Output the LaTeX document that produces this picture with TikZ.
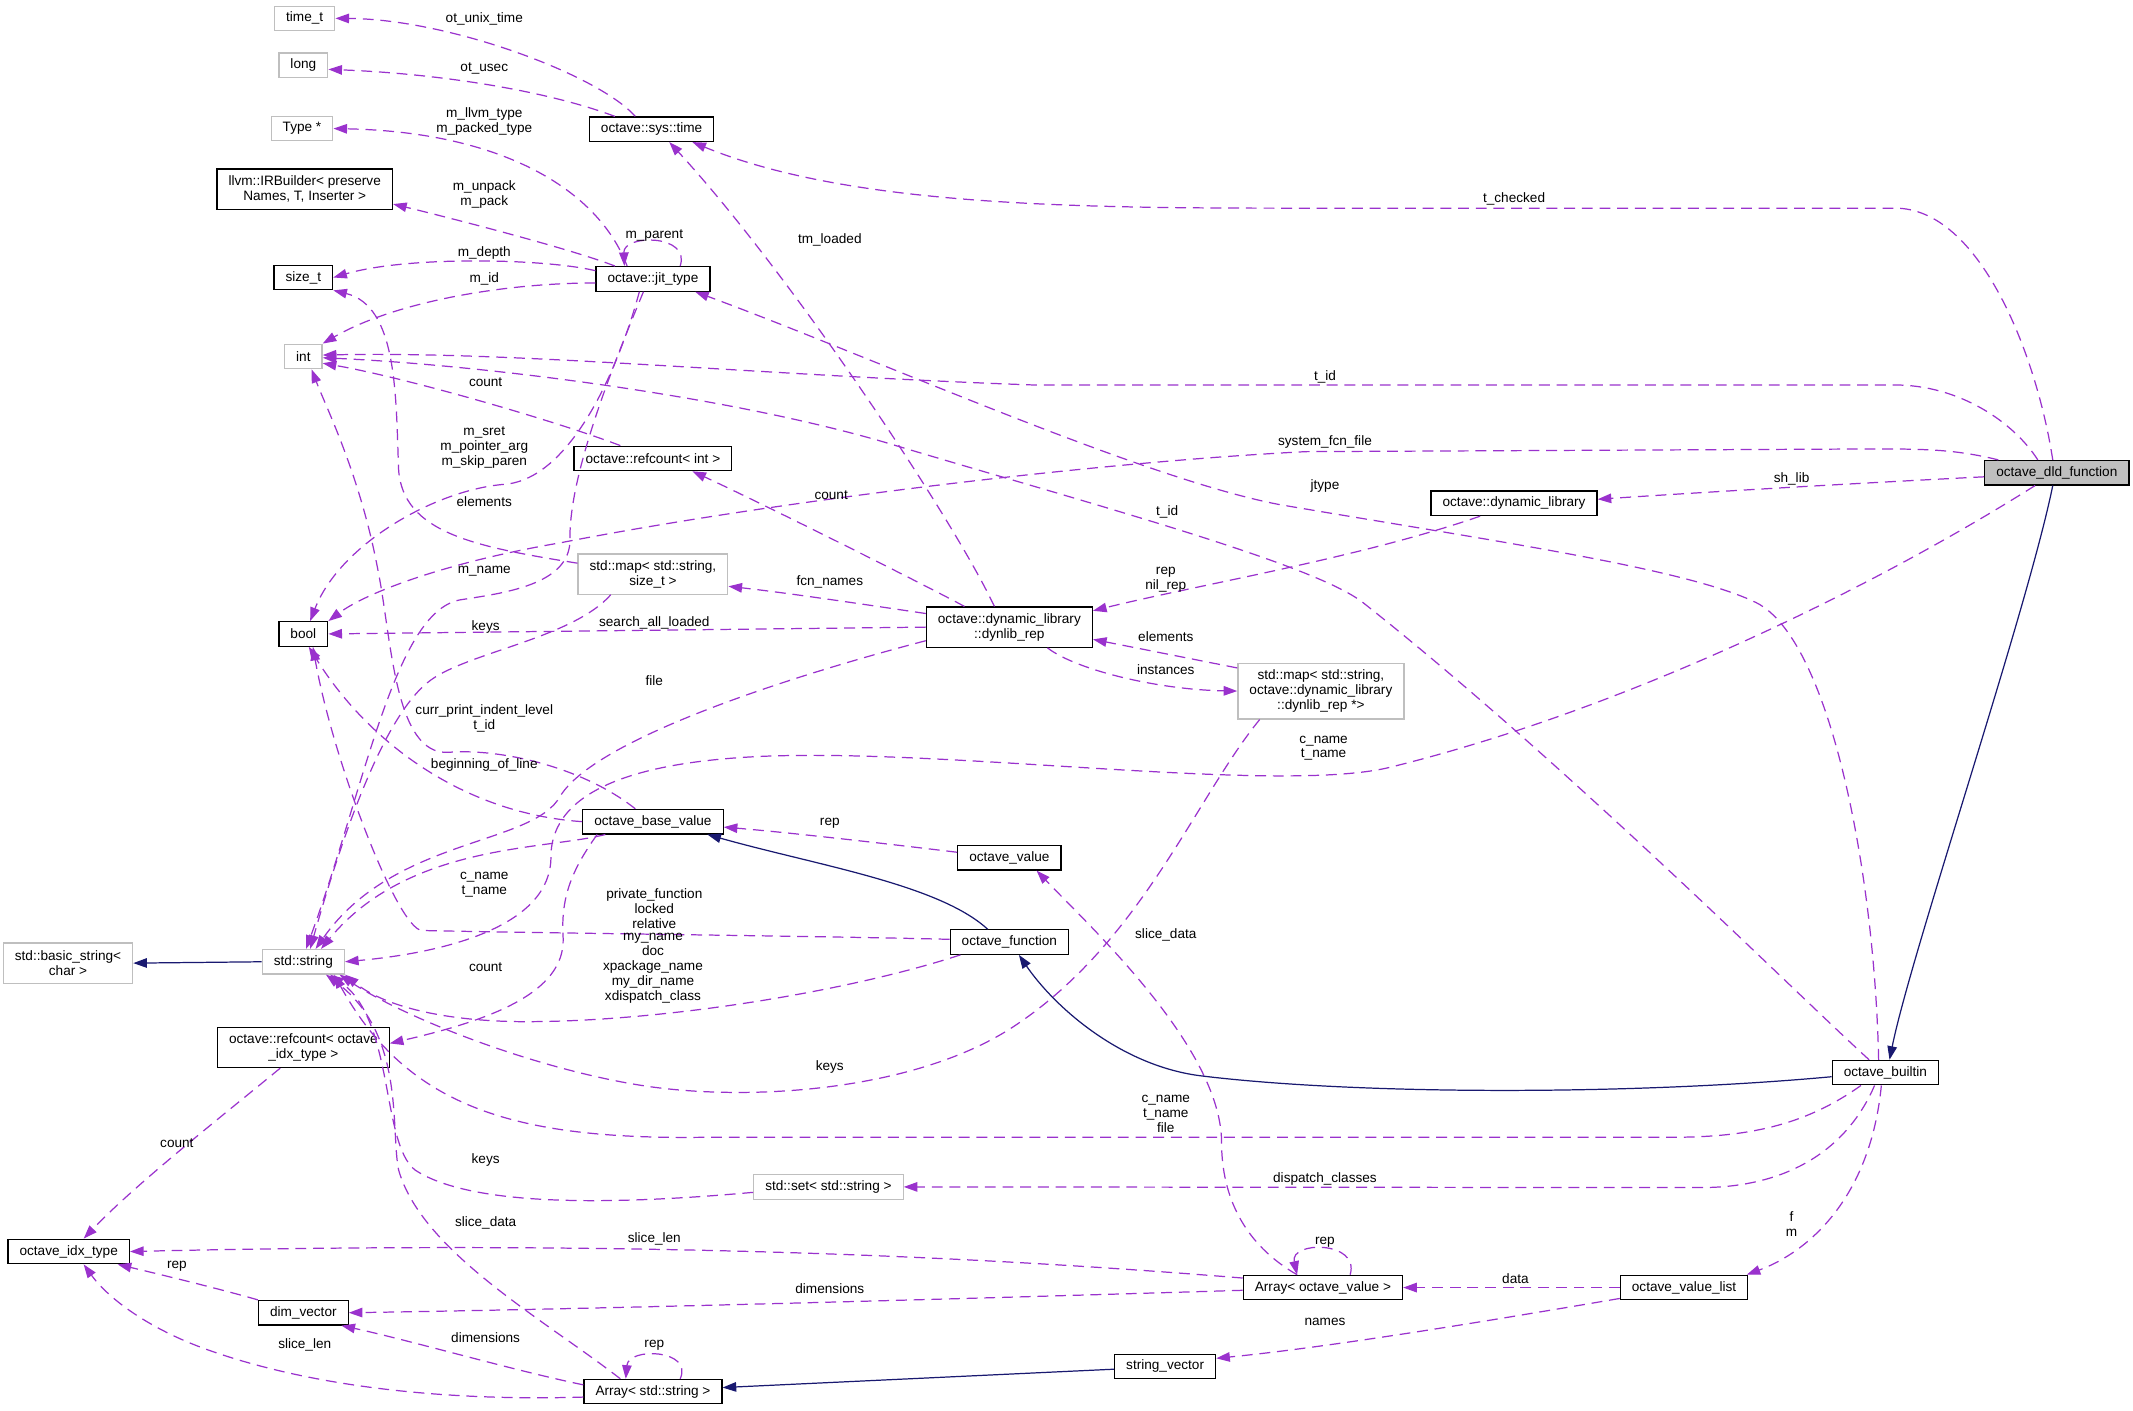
\documentclass[tikz,border=0pt]{standalone}
\usepackage{fontspec}
\setmainfont{Liberation Sans}
\usetikzlibrary{arrows.meta}
\definecolor{mempurple}{HTML}{9A32CD}
\definecolor{inhnavy}{HTML}{191970}
\definecolor{extgray}{HTML}{BFBFBF}

\begin{document}
\begin{tikzpicture}[x=1pt, y=-1pt,
  font=\fontsize{10pt}{11pt}\selectfont,
  cls/.style={draw=black, line width=0.9pt, fill=white, inner xsep=8.5pt, inner ysep=2pt, minimum height=18pt, align=center},
  ext/.style={cls, draw=extgray},
  two/.style={minimum height=29.5pt},
  three/.style={minimum height=41pt},
  mem/.style={draw=mempurple, line width=0.9pt, dash pattern=on 8pt off 5pt, -{Triangle[length=10pt,width=7pt]}},
  inh/.style={draw=inhnavy, line width=0.9pt, -{Triangle[length=10pt,width=7pt]}},
  lbl/.style={inner sep=0pt, align=center}
]
\useasboundingbox (0,0) rectangle (1568,1037);

\node[ext] (timet) at (224,13.5) {time\_t};
\node[ext] (long) at (223,48) {long};
\node[ext] (typeptr) at (222,94.5) {Type *};
\node[cls, two] (irbuilder) at (224,139) {llvm::IRBuilder< preserve\\Names, T, Inserter >};
\node[cls] (sizet) at (223,204) {size\_t};
\node[ext] (int) at (223,262) {int};
\node[cls] (bool) at (223,466) {bool};
\node[ext, two] (basicstr) at (50,708) {std::basic\_string<\\char >};
\node[ext] (stdstr) at (223,707) {std::string};
\node[cls, two] (refidx) at (223,770) {octave::refcount< octave\\\_idx\_type >};
\node[cls] (idxtype) at (50.5,920) {octave\_idx\_type};
\node[cls] (dimvec) at (223,965) {dim\_vector};
\node[cls] (systime) at (479,95) {octave::sys::time};
\node[cls] (jittype) at (480,205) {octave::jit\_type};
\node[cls] (refint) at (480,337) {octave::refcount< int >};
\node[ext, two] (mapsz) at (480,422) {std::map< std::string,\\size\_t >};
\node[cls] (basevalue) at (480,604) {octave\_base\_value};
\node[cls] (arraystr) at (480,1023) {Array< std::string >};
\node[ext] (stdset) at (609,872.5) {std::set< std::string >};
\node[cls, two] (dynrep) at (742,461) {octave::dynamic\_library\\::dynlib\_rep};
\node[cls] (ovalue) at (742,630.5) {octave\_value};
\node[cls] (ofunc) at (742,692.5) {octave\_function};
\node[cls] (strvec) at (856.5,1004.5) {string\_vector};
\node[cls] (arrayov) at (972.5,946.5) {Array< octave\_value >};
\node[ext, three] (mapdyn) at (971,508) {std::map< std::string,\\octave::dynamic\_library\\::dynlib\_rep *>};
\node[cls] (dynlib) at (1113,370) {octave::dynamic\_library};
\node[cls] (ovlist) at (1238,946.5) {octave\_value\_list};
\node[cls] (builtin) at (1386,788.5) {octave\_builtin};
\node[cls, fill=extgray] (dld) at (1512,347.5) {octave\_dld\_function};

\draw[mem] ([xshift=-12pt]systime.north) .. controls (440,55) and (330,14) .. (timet.east);
\draw[mem] ([xshift=-27pt]systime.north) .. controls (400,66) and (320,54) .. ([yshift=-3pt]long.east);
\draw[mem] ([xshift=-19pt]jittype.north) .. controls (440,140) and (370,97) .. (typeptr.east);
\draw[mem] ([xshift=-28pt]jittype.north) .. controls (420,183) and (330,160) .. ([yshift=-11pt]irbuilder.east);
\draw[mem] ([yshift=6pt]jittype.west) .. controls (400,190) and (300,188) .. (sizet.east);
\draw[mem] ([yshift=-3pt]jittype.west) .. controls (370,208) and (290,222) .. (int.north east);
\draw[mem] ([xshift=20pt]jittype.north) .. controls (508,172) and (458,172) .. ([xshift=-21pt]jittype.north);
\draw[mem] ([xshift=-10pt]jittype.south) .. controls (455,270) and (420,352) .. (371,356) .. controls (320,360) and (250,400) .. ([xshift=5pt]bool.north);
\draw[mem] ([xshift=-7pt]jittype.south) .. controls (450,270) and (418,350) .. (419,397) .. controls (419,430) and (370,436) .. (338,441) .. controls (290,450) and (268,580) .. ([xshift=2pt]stdstr.north);
\draw[mem] ([xshift=-11pt]dynrep.north) .. controls (700,380) and (580,200) .. ([xshift=13pt]systime.south);
\draw[mem] ([xshift=-33pt]dynrep.north) .. controls (680,430) and (560,370) .. ([xshift=29pt]refint.south);
\draw[mem] ([xshift=-24pt]refint.north) .. controls (410,310) and (300,278) .. ([yshift=-5pt]int.east);
\draw[mem] ([yshift=10pt]dynrep.west) .. controls (640,445) and (580,436) .. ([yshift=-9pt]mapsz.east);
\draw[mem] (dynrep.west) -- (bool.east);
\draw[mem] ([yshift=-10pt]dynrep.west) .. controls (600,492) and (440,540) .. (412,585) .. controls (392,622) and (290,615) .. ([xshift=9pt]stdstr.north);
\draw[mem] ([xshift=-31pt]mapsz.south) .. controls (420,470) and (340,480) .. (314,502) .. controls (280,530) and (250,620) .. ([xshift=5pt]stdstr.north);
\draw[mem] ([yshift=8pt]mapsz.west) .. controls (350,402) and (296,392) .. (293,345) .. controls (291,290) and (292,225) .. (sizet.south east);
\draw[mem] ([yshift=17pt]mapdyn.west) -- ([yshift=-9pt]dynrep.east);
\draw[mem] ([xshift=28pt]dynrep.south) .. controls (790,492) and (850,507) .. (mapdyn.west);
\draw[mem] ([xshift=-25pt]dynlib.south) .. controls (1000,410) and (880,430) .. ([yshift=12pt]dynrep.east);
\draw[mem] ([xshift=-45pt]mapdyn.south) .. controls (880,585) and (840,690) .. (749,752) .. controls (680,800) and (560,810) .. (479,799) .. controls (400,788) and (300,750) .. ([xshift=-4pt]stdstr.south east);
\draw[mem] ([xshift=-3pt]dld.north) .. controls (1497,260) and (1455,153) .. (1393,153) -- (941,153) .. controls (780,153) and (620,150) .. ([xshift=30pt]systime.south);
\draw[mem] ([xshift=-14pt]dld.north) .. controls (1480,310) and (1440,283) .. (1393,283) -- (760,283) .. controls (560,276) and (380,258) .. ([yshift=1pt]int.east);
\draw[mem] ([xshift=-43pt]dld.north) .. controls (1440,331) and (1420,330) .. (1380,330) -- (960,332) .. controls (800,340) and (560,370) .. (412,399) .. controls (330,413) and (270,435) .. (bool.north east);
\draw[mem] ([yshift=-3pt]dld.west) .. controls (1350,356) and (1250,362) .. ([yshift=3pt]dynlib.east);
\draw[mem] ([xshift=-16pt]dld.south) .. controls (1380,430) and (1200,520) .. (1022,564) .. controls (940,584) and (700,550) .. (560,556) .. controls (470,560) and (405,580) .. (405,630) .. controls (405,680) and (330,700) .. (stdstr.east);
\draw[mem] ([yshift=4pt]ovalue.west) .. controls (650,620) and (580,612) .. ([yshift=-4pt]basevalue.east);
\draw[mem] ([xshift=-13pt]basevalue.north) .. controls (430,565) and (370,550) .. (330,553) .. controls (290,556) and (288,470) .. (278,420) .. controls (265,350) and (240,300) .. ([xshift=6pt]int.south);
\draw[mem] (basevalue.west) .. controls (340,598) and (270,545) .. ([xshift=4pt]bool.south);
\draw[mem] ([xshift=-35pt]basevalue.south) .. controls (400,625) and (300,620) .. ([xshift=13pt]stdstr.north);
\draw[mem] ([xshift=-41pt]basevalue.south) .. controls (420,640) and (412,660) .. (414,690) .. controls (415,730) and (360,750) .. ([yshift=3pt]refidx.east);
\draw[mem] ([yshift=2pt]ofunc.west) .. controls (600,688) and (400,686) .. (310,684) .. controls (292,682) and (245,560) .. ([xshift=7pt]bool.south);
\draw[mem] ([xshift=-36pt]ofunc.south) .. controls (620,730) and (480,752) .. (380,751) .. controls (320,750) and (280,738) .. (stdstr.south east);
\draw[mem] ([xshift=-18pt]builtin.south) .. controls (1330,825) and (1290,836) .. (1230,836) -- (520,836) .. controls (380,838) and (300,815) .. ([xshift=-8pt]stdstr.south east);
\draw[mem] ([xshift=-8pt]builtin.south) .. controls (1360,840) and (1320,873) .. (1250,873) -- (stdset.east);
\draw[mem] ([xshift=-3pt]builtin.south) .. controls (1375,880) and (1330,920) .. ([xshift=46pt]ovlist.north);
\draw[mem] ([xshift=-5pt]builtin.north) .. controls (1378,640) and (1345,470) .. (1291,443) .. controls (1240,418) and (1100,398) .. (941,371) .. controls (840,352) and (640,262) .. ([xshift=31pt]jittype.south);
\draw[mem] ([xshift=-12pt]builtin.north) .. controls (1320,730) and (1150,560) .. (1002,443) .. controls (965,414) and (800,370) .. (650,325) .. controls (530,290) and (350,268) .. ([yshift=-1pt]int.east);
\draw[mem] ([yshift=-4pt]stdset.west) .. controls (470,884) and (350,890) .. (305,860) .. controls (280,840) and (290,750) .. ([xshift=-11pt]stdstr.south east);
\draw[mem] ([xshift=-24pt]arraystr.north) .. controls (400,970) and (310,920) .. (293,860) .. controls (287,830) and (298,760) .. ([xshift=-14pt]stdstr.south east);
\draw[mem] ([xshift=20pt]arraystr.north) .. controls (510,992) and (462,990) .. ([xshift=-20pt]arraystr.north);
\draw[mem] ([yshift=5pt]arraystr.west) .. controls (380,1008) and (300,985) .. ([xshift=28pt]dimvec.south);
\draw[mem] ([yshift=-4pt]arraystr.west) .. controls (330,1030) and (230,1020) .. (152,992) .. controls (110,977) and (80,955) .. ([xshift=11pt]idxtype.south);
\draw[mem] (dimvec.north west) .. controls (160,947) and (110,935) .. ([xshift=36pt]idxtype.south);
\draw[mem] ([xshift=-17pt]refidx.south) .. controls (170,815) and (100,870) .. ([xshift=11pt]idxtype.north);
\draw[mem] ([yshift=7pt]arrayov.west) .. controls (700,922) and (450,912) .. (idxtype.east);
\draw[mem] ([yshift=-2pt]arrayov.west) .. controls (700,955) and (450,962) .. (dimvec.east);
\draw[mem] ([xshift=20pt]arrayov.north) .. controls (1000,912) and (948,912) .. ([xshift=-19pt]arrayov.north);
\draw[mem] ([xshift=-19pt]arrayov.north) .. controls (915,915) and (898,880) .. (898,840) .. controls (898,770) and (800,680) .. ([xshift=20pt]ovalue.south);
\draw[mem] (ovlist.west) -- (arrayov.east);
\draw[mem] ([yshift=-8pt]ovlist.west) .. controls (1100,970) and (980,990) .. ([yshift=6pt]strvec.east);

\draw[inh] ([xshift=-3pt]dld.south) .. controls (1490,450) and (1405,700) .. ([xshift=3pt]builtin.north);
\draw[inh] ([yshift=-3pt]builtin.west) .. controls (1200,805) and (1000,805) .. (884,791) .. controls (824,784) and (775,740) .. ([xshift=7pt]ofunc.south);
\draw[inh] ([xshift=-16pt]ofunc.north) .. controls (690,650) and (600,636) .. ([xshift=40pt]basevalue.south);
\draw[inh] (stdstr.west) -- (basicstr.east);
\draw[inh] ([yshift=-2pt]strvec.west) -- ([yshift=3pt]arraystr.east);

\node[lbl] (l-unix) at (356,14) {ot\_unix\_time};
\node[lbl] (l-usec) at (356,50) {ot\_usec};
\node[lbl] (l-llvm) at (356,89) {m\_llvm\_type\\m\_packed\_type};
\node[lbl] (l-pack) at (356,143) {m\_unpack\\m\_pack};
\node[lbl] (l-depth) at (356,186) {m\_depth};
\node[lbl] (l-id) at (356,205) {m\_id};
\node[lbl] (l-parent) at (481,173) {m\_parent};
\node[lbl] (l-cntint) at (357,281) {count};
\node[lbl] (l-sret) at (356,329) {m\_sret\\m\_pointer\_arg\\m\_skip\_paren};
\node[lbl] (l-elem1) at (356,369) {elements};
\node[lbl] (l-mname) at (356,420) {m\_name};
\node[lbl] (l-keys1) at (357,461) {keys};
\node[lbl] (l-search) at (481,458) {search\_all\_loaded};
\node[lbl] (l-file) at (481,500) {file};
\node[lbl] (l-indent) at (356,528) {curr\_print\_indent\_level\\t\_id};
\node[lbl] (l-bol) at (356,562) {beginning\_of\_line};
\node[lbl] (l-bname) at (356,650) {c\_name\\t\_name};
\node[lbl] (l-cntidx) at (357,711) {count};
\node[lbl] (l-priv) at (481,668) {private\_function\\locked\\relative};
\node[lbl] (l-myname) at (480,711.5) {my\_name\\doc\\xpackage\_name\\my\_dir\_name\\xdispatch\_class};
\node[lbl] (l-tm) at (610,176) {tm\_loaded};
\node[lbl] (l-cntrep) at (611,364) {count};
\node[lbl] (l-fcn) at (610,428) {fcn\_names};
\node[lbl] (l-rep1) at (610,605) {rep};
\node[lbl] (l-keys2) at (610,784) {keys};
\node[lbl] (l-nilrep) at (857,426) {rep\\nil\_rep};
\node[lbl] (l-elem2) at (857,468) {elements};
\node[lbl] (l-inst) at (857,492) {instances};
\node[lbl] (l-tid2) at (858,376) {t\_id};
\node[lbl] (l-slice1) at (857,687) {slice\_data};
\node[lbl] (l-bfile) at (857,818.5) {c\_name\\t\_name\\file};
\node[lbl] (l-check) at (1113,146) {t\_checked};
\node[lbl] (l-tid1) at (974,277) {t\_id};
\node[lbl] (l-sysfile) at (974,325) {system\_fcn\_file};
\node[lbl] (l-jtype) at (974,357) {jtype};
\node[lbl] (l-shlib) at (1317,352) {sh\_lib};
\node[lbl] (l-dname) at (973,550) {c\_name\\t\_name};
\node[lbl] (l-disp) at (974,867) {dispatch\_classes};
\node[lbl] (l-fm) at (1317,900) {f\\m};
\node[lbl] (l-data) at (1114,940) {data};
\node[lbl] (l-names) at (974,972) {names};
\node[lbl] (l-rep3) at (974,913) {rep};
\node[lbl] (l-keys3) at (357,853) {keys};
\node[lbl] (l-slice2) at (357,899) {slice\_data};
\node[lbl] (l-len1) at (481,911) {slice\_len};
\node[lbl] (l-dim1) at (610,947) {dimensions};
\node[lbl] (l-cntidx2) at (130,840) {count};
\node[lbl] (l-rep4) at (130,931) {rep};
\node[lbl] (l-rep2) at (481,989) {rep};
\node[lbl] (l-dim2) at (357,983) {dimensions};
\node[lbl] (l-len2) at (224,989) {slice\_len};
\end{tikzpicture}
\end{document}
